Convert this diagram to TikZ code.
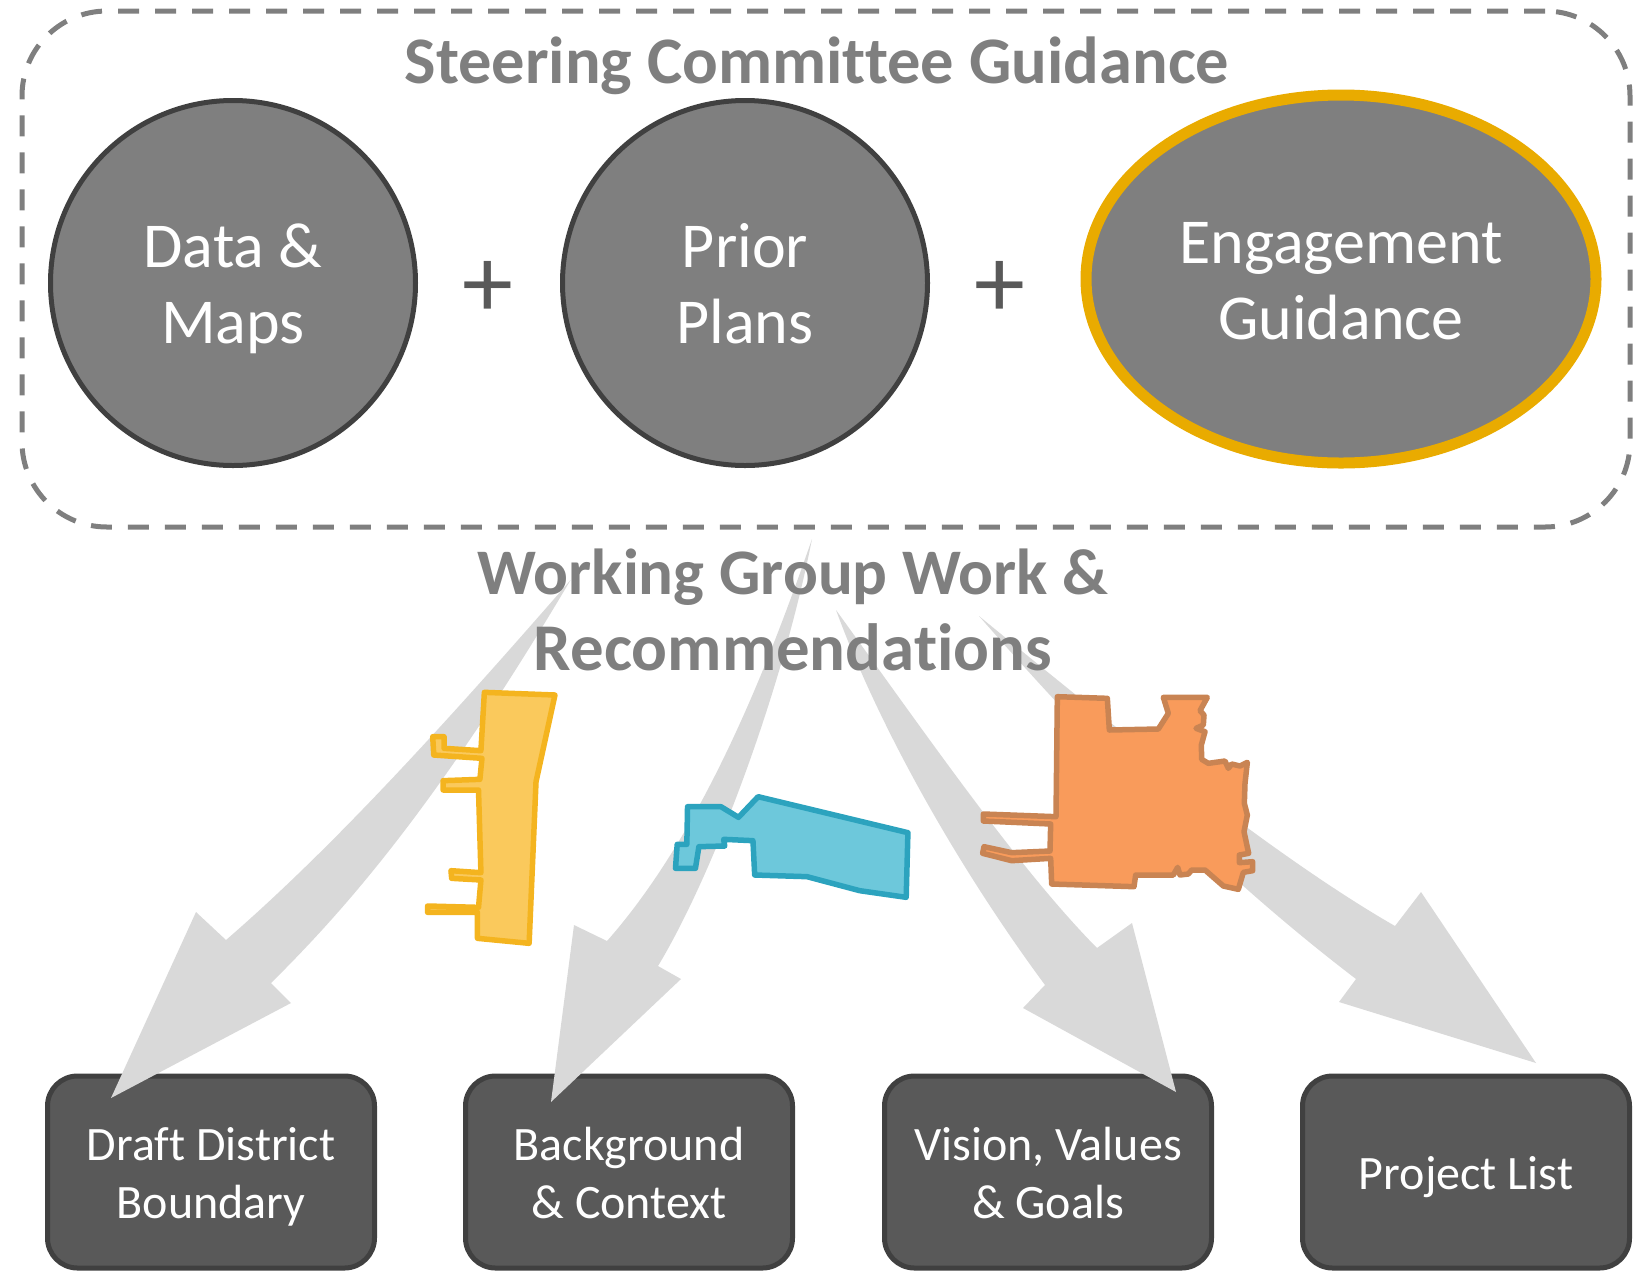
\documentclass[tikz,border=0pt]{standalone}
\usepackage{fontspec}
\setmainfont{Carlito}[Ligatures=NoCommon]
\usetikzlibrary{shapes.geometric}
\definecolor{gfill}{HTML}{7F7F7F}
\definecolor{gline}{HTML}{404040}
\definecolor{ttl}{HTML}{7F7F7F}
\definecolor{arrowg}{HTML}{D9D9D9}
\definecolor{boxf}{HTML}{595959}
\definecolor{goldl}{HTML}{E9AB00}
\definecolor{yf}{HTML}{FAC95C}
\definecolor{yl}{HTML}{F4B41F}
\definecolor{bf}{HTML}{6DC8DB}
\definecolor{bl}{HTML}{2CA3BE}
\definecolor{of}{HTML}{F99B5B}
\definecolor{ol}{HTML}{C98453}
\newcommand\cstrut{\rule[-16pt]{0pt}{76pt}}
\newcommand\bstrut{\rule[-12pt]{0pt}{58pt}}
\tikzset{
 circ/.style={circle,draw=gline,fill=gfill,line width=5pt,minimum size=365pt,inner sep=0pt,text=white,align=center,font=\fontsize{64}{76}\selectfont},
 outbox/.style={rectangle,rounded corners=30pt,draw=gline,fill=boxf,line width=5pt,minimum width=327pt,minimum height=192pt,inner sep=0pt,text=white,align=center,font=\fontsize{48}{58}\selectfont},
 ttlt/.style={text=ttl,align=center,font=\fontsize{65}{76}\selectfont\bfseries},
 plus/.style={text=boxf,font=\fontsize{102}{102}\selectfont,inner sep=0pt},
 garrow/.style={fill=arrowg,draw=none},
 shp/.style={line width=5.5pt,line join=round},
}
\begin{document}
\begin{tikzpicture}[x=1pt,y=-1pt]
\useasboundingbox (0,0) rectangle (1643,1270);
% output boxes
\node[outbox] (b1) at (211,1172) {\bstrut Draft District\\\bstrut Boundary};
\node[outbox] (b2) at (629,1172) {\bstrut Background\\\bstrut\& Context};
\node[outbox] (b3) at (1048,1172) {\bstrut Vision, Values\\\bstrut\& Goals};
\node[outbox] (b4) at (1466,1172) {\bstrut Project List};
% arrows
\fill[garrow] (570.6,580) .. controls (440,730) and (330,850) .. (226,940) -- (196,912) -- (111,1098) -- (291,1003) -- (271,983) .. controls (350,905) and (440,800) .. (570.6,580) -- cycle;
\fill[garrow] (812,539) .. controls (770,660) and (705,830) .. (607,941) -- (574,925) -- (551,1102) -- (681,979) -- (658,966) .. controls (710,880) and (780,700) .. (812,539) -- cycle;
\fill[garrow] (836,610) .. controls (880,730) and (960,870) .. (1045,985) -- (1023,1008) -- (1176,1092) -- (1132,923) -- (1097,948) .. controls (1020,870) and (930,740) .. (836,610) -- cycle;
\fill[garrow] (979,616) .. controls (1070,720) and (1200,860) .. (1356,979) -- (1339,1002) -- (1536,1063) -- (1421,892) -- (1395,926) .. controls (1280,860) and (1130,740) .. (979,616) -- cycle;
% dashed frame
\node[draw=ttl,line width=5pt,rounded corners=85pt,dash pattern=on 21pt off 16pt,minimum width=1608pt,minimum height=516pt,inner sep=0pt] (frame) at (826,269) {};
\node[ttlt,font=\fontsize{66.5}{76}\selectfont\bfseries] (t1) at (817,66) {Steering Committee Guidance};
\node[ttlt] (t2) at (793,610) {Working Group Work \&\\{\fontsize{66.8}{76}\selectfont Recommendations}};
\node[circ] (c1) at (233,283) {\cstrut Data \&\\\cstrut Maps};
\node[circ] (c2) at (745,283) {\cstrut Prior\\\cstrut Plans};
\node[ellipse,draw=goldl,fill=gfill,line width=11pt,text=white,align=center,font=\fontsize{64}{76}\selectfont,inner sep=0pt,minimum width=510pt,minimum height=368pt] (c3) at (1341,279) {\cstrut Engagement\\\cstrut Guidance};
\node[plus] (p1) at (488,289) {+};
\node[plus] (p2) at (1000,289) {+};
% shapes
\begin{scope}[shift={(400,660)},xscale=0.34435,yscale=0.33333]
\draw[shp,draw=yl,fill=yf] (245,97)--(450,105)--(395,365)--(375,850)--(225,835)--(225,757)--(80,757)--(80,738)--(228,742)--(235,660)--(150,655)--(148,632)--(235,638)--(228,390)--(125,390)--(125,362)--(232,358)--(238,295)--(98,285)--(95,230)--(128,230)--(128,265)--(235,272)--cycle;
\draw[shp,draw=bl,fill=bf] (835,440)--(932,440)--(983,472)--(1040,410)--(1475,518)--(1470,712)--(1335,692)--(1182,650)--(1030,645)--(1025,542)--(940,538)--(943,558)--(868,560)--(858,625)--(800,625)--(805,553)--(833,553)--cycle;
\end{scope}
\begin{scope}[shift={(960,670)},scale=0.33333]
\draw[shp,draw=ol,fill=of] (292,80)--(442,85)--(448,180)--(595,177)--(625,130)--(610,82)--(742,82)--(720,122)--(732,135)--(730,165)--(708,175)--(735,185)--(724,225)--(725,268)--(745,280)--(795,273)--(805,295)--(815,282)--(840,288)--(862,277)--(855,340)--(853,400)--(862,435)--(852,485)--(866,550)--(838,555)--(838,578)--(878,575)--(878,602)--(850,607)--(835,658)--(790,648)--(735,600)--(695,600)--(685,612)--(660,615)--(653,592)--(640,615)--(527,615)--(522,650)--(275,642)--(272,565)--(155,572)--(68,550)--(72,530)--(155,548)--(270,543)--(272,462)--(70,453)--(70,432)--(288,440)--cycle;
\end{scope}
\end{tikzpicture}
\end{document}
